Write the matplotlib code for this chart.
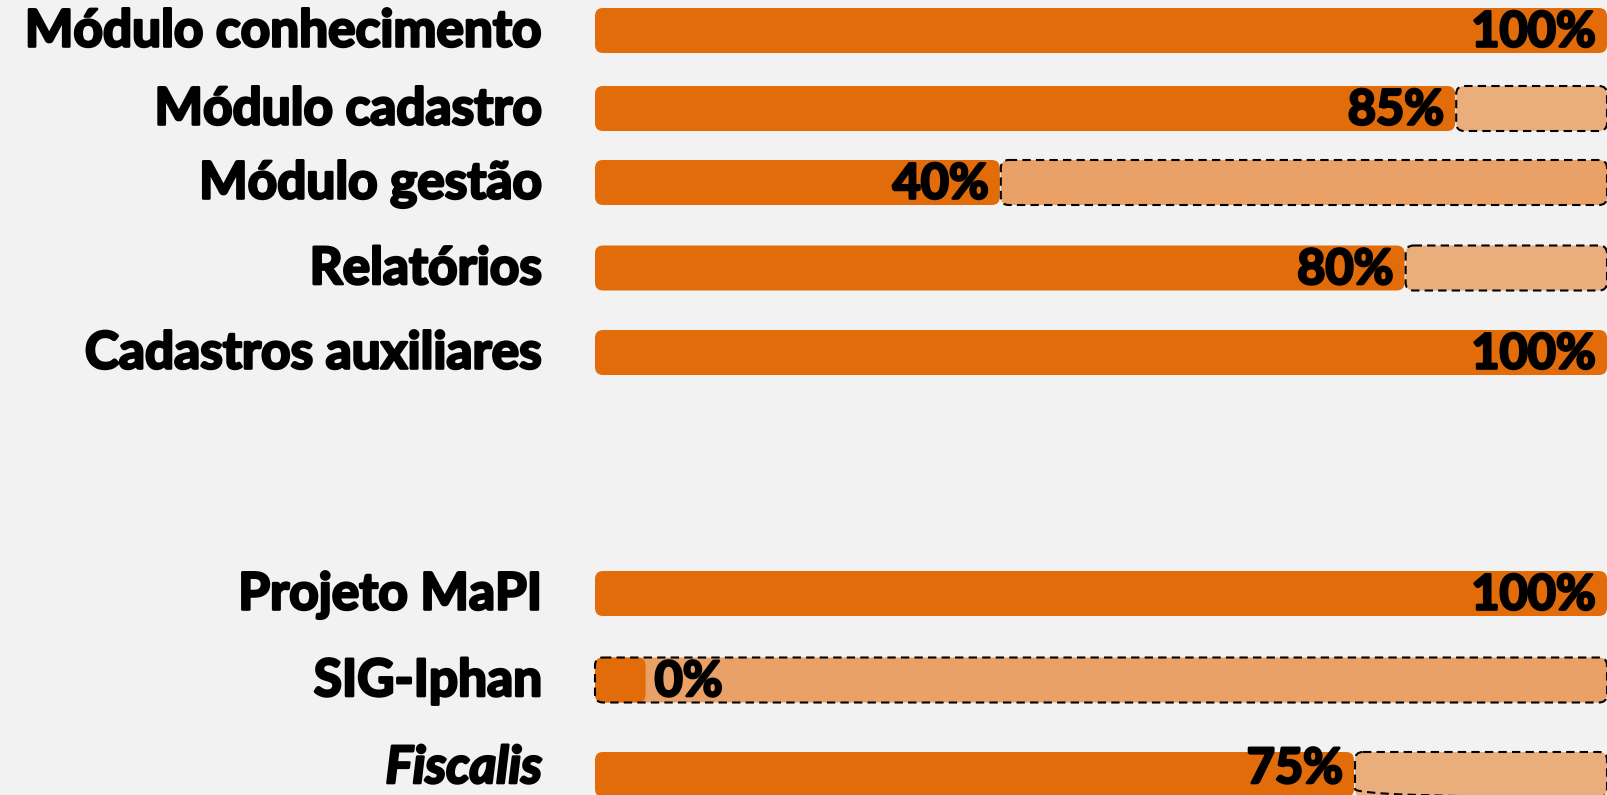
import matplotlib.pyplot as plt
import matplotlib.patheffects as pe
from matplotlib.patches import FancyBboxPatch

# dados
tarefas = ["Módulo conhecimento", "Módulo cadastro", "Módulo gestão", "Relatórios",
           "Cadastros auxiliares", "Projeto MaPI", "SIG-Iphan", "Fiscalis"]
progresso = [100, 85, 40, 80, 100, 100, 0, 75]
italico = [False, False, False, False, False, False, False, True]

# layout (pixels)
W, H = 1608, 795
x0, x1 = 595, 1607
linhas_y = [30.5, 108.5, 182.5, 268, 352.5, 593.5, 680, 774.5]
altura = 45
laranja = "#e36c0a"
alpha_resto = [0.5, 0.5, 0.6, 0.5, 0.5, 0.5, 0.6, 0.5]
px = (x1 - x0) / 100.0          # pixels por unidade de %

plt.rcParams['font.family'] = ['Lato', 'DejaVu Sans']
grosso = [pe.withStroke(linewidth=1.9, foreground="black")]

fig = plt.figure(figsize=(W / 100, H / 100), dpi=100)
fig.patch.set_facecolor("#f2f2f2")
ax = fig.add_axes([x0 / W, 0, (x1 - x0) / W, 1])
ax.set_xlim(0, 100)
ax.set_ylim(H, 0)
ax.axis("off")

def barra(xa, xb, y, **kw):
    r = 8 / px
    p = FancyBboxPatch((xa, y - altura / 2), xb - xa, altura,
                       boxstyle=f"round,pad=0,rounding_size={r}",
                       mutation_aspect=px, clip_on=False, **kw)
    ax.add_patch(p)

for nome, v, it, y, a in zip(tarefas, progresso, italico, linhas_y, alpha_resto):
    if v < 100:
        xa = 0 if v == 0 else v + 0.1
        barra(xa, 100, y, facecolor=laranja, alpha=a, edgecolor="none")
        barra(xa, 100, y, facecolor="none", edgecolor="black",
              linewidth=1.5, linestyle=(0, (4, 2.5)))
    base = min(y + 16, 783)   # a última linha fica cortada na borda
    fim = max(v, 5)   # 0% aparece como um pequeno bloco
    if v == 0:
        ax.text(fim + 9 / px, base, f"{v}%", ha="left", va="baseline",
                fontsize=35, fontweight="bold", path_effects=grosso)
    else:
        ax.text(fim - 11 / px, base, f"{v}%", ha="right", va="baseline",
                fontsize=35, fontweight="bold", path_effects=grosso)
    barra(0, fim, y, facecolor=laranja, edgecolor="none", zorder=0.5)
    ax.text((542 - x0) / px, base, nome, ha="right", va="baseline",
            fontsize=37, fontweight="bold", style="italic" if it else "normal",
            clip_on=False, path_effects=grosso)

fig.savefig("out.png", dpi=100, facecolor=fig.get_facecolor())
